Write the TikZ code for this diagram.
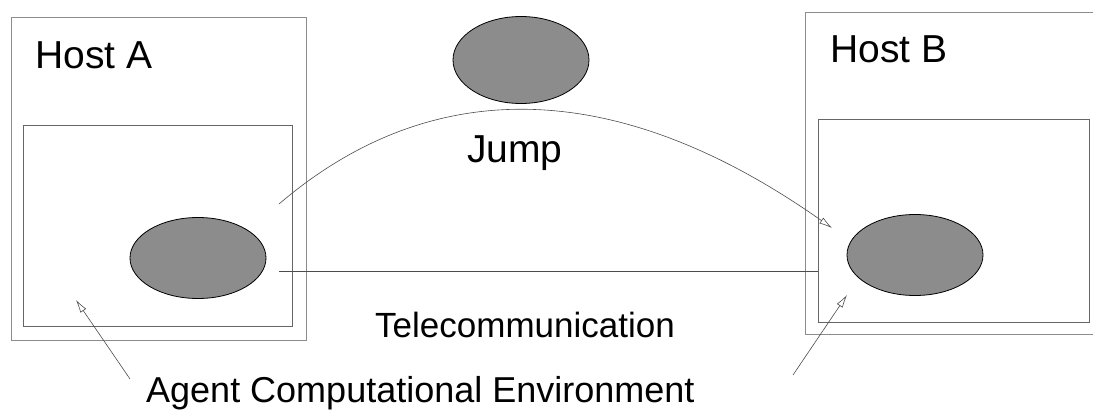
\documentclass[tikz,border=0pt]{standalone}
\usepackage{fontspec}
\setmainfont{Liberation Sans}
\usetikzlibrary{arrows.meta,shapes.geometric}
\begin{document}
\begin{tikzpicture}[x=1pt,y=-1pt,
  hostbox/.style={draw=black!45, line width=0.7pt, inner sep=0pt, anchor=north west},
  envbox/.style={draw=black!60, line width=0.7pt, inner sep=0pt, anchor=north west},
  agent/.style={ellipse, draw=black, line width=0.8pt, fill=black!45,
    minimum width=136pt, minimum height=81pt, inner sep=0pt},
  lbl/.style={inner sep=0pt, anchor=base west},
  link/.style={draw=black!70, line width=0.6pt},
  head/.style={-{Latex[open,length=13pt,width=7pt]}}
]
\useasboundingbox (0,0) rectangle (1093,412);

% hosts and their agent environments
\node[hostbox, minimum width=295pt, minimum height=323pt] (hostA) at (11,17) {};
\node[envbox,  minimum width=269pt, minimum height=201pt] (envA)  at (23,125) {};
\node[hostbox, minimum width=300pt, minimum height=322pt] (hostB) at (805,12) {};
\node[envbox,  minimum width=271pt, minimum height=203pt] (envB)  at (818,119) {};

% agents
\node[agent] (agA) at (198,258) {};
\node[agent] (agB) at (915,255) {};
\node[agent, minimum height=87pt] (agJ) at (521,60) {};

% labels
\node[lbl, font=\fontsize{39}{44}\selectfont] (tHostA) at (35,69) {Host A};
\node[lbl, font=\fontsize{39}{44}\selectfont] (tHostB) at (830,63) {Host B};
\node[lbl, font=\fontsize{39}{44}\selectfont] (tJump) at (467,162) {Jump};
\node[lbl, font=\fontsize{35}{40}\selectfont] (tTel) at (375,337) {Telecommunication};
\node[lbl, font=\fontsize{36}{41}\selectfont] (tEnv) at (146,402) {Agent Computational Environment};

% connector end points
\coordinate (jA) at (279,204);
\coordinate (jB) at (832,228);
\coordinate (tA) at (279,271);
\coordinate (cA) at (130,379);
\coordinate (pA) at (76,300);
\coordinate (cB) at (793,375);
\coordinate (pB) at (847,295);

% migration, messaging and pointers to the environments
\draw[link, head] (jA) .. controls (430,75) and (615,75) .. (jB);
\draw[link] (tA) -- (tA -| envB.west);
\draw[link, head] (cA) -- (pA);
\draw[link, head] (cB) -- (pB);
\end{tikzpicture}
\end{document}
